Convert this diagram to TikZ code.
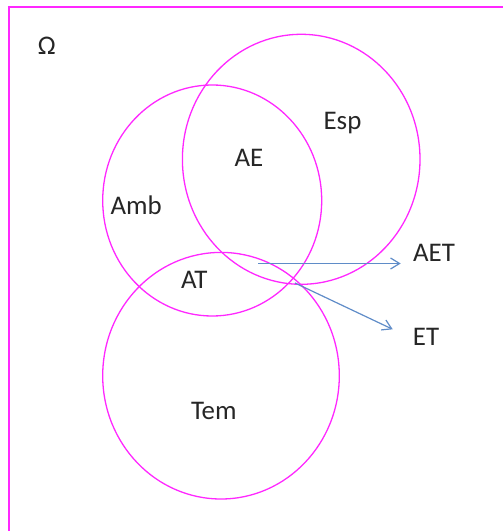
\documentclass[tikz,border=0pt]{standalone}
\usepackage{fontspec}
\setmainfont{Carlito}
\usetikzlibrary{arrows.meta}
\definecolor{setline}{RGB}{255,40,255}
\definecolor{arrowblue}{RGB}{95,140,200}
\begin{document}
\begin{tikzpicture}[x=1bp,y=-1bp,
  setcurve/.style={draw=setline, line width=1.3bp},
  pointer/.style={draw=arrowblue, line width=1.2bp, -{Straight Barb[length=9bp,width=11bp,line width=1.2bp]}},
  lbl/.style={anchor=base, inner sep=0pt, text=black!85, font=\fontsize{27}{32}\selectfont}]
  \useasboundingbox (0,0) rectangle (503,531);
  % universe frame, running off the page to the right and bottom
  \draw[draw=setline, line width=1.8bp] (9.3,560) -- (9.3,7.3) -- (560,7.3);
  % the three sets
  \draw[setcurve] (212.2,200.5) ellipse [x radius=109.5, y radius=115.5];
  \draw[setcurve] (301.2,159.3) ellipse [x radius=118.8, y radius=125];
  \draw[setcurve] (221,375.7) ellipse [x radius=118.3, y radius=123.3];
  % labels
  \node[lbl] (omega) at (46.7,55) {Ω};
  \node[lbl] (esp) at (342.5,130) {Esp};
  \node[lbl] (ae) at (249,167) {AE};
  \node[lbl] (amb) at (136.2,214.3) {Amb};
  \node[lbl] (at) at (194.3,288.3) {AT};
  \node[lbl] (tem) at (213.8,419.3) {Tem};
  \node[lbl] (aet) at (434,261.7) {AET};
  \node[lbl] (et) at (426,345) {ET};
  % pointers from the regions to their names
  \coordinate (aetfrom) at (258,263.5);
  \coordinate (aetto) at (400.7,263.5);
  \coordinate (etfrom) at (295,283);
  \coordinate (etto) at (392.7,329.3);
  \draw[pointer] (aetfrom) -- (aetto);
  \draw[pointer] (etfrom) -- (etto);
\end{tikzpicture}
\end{document}
